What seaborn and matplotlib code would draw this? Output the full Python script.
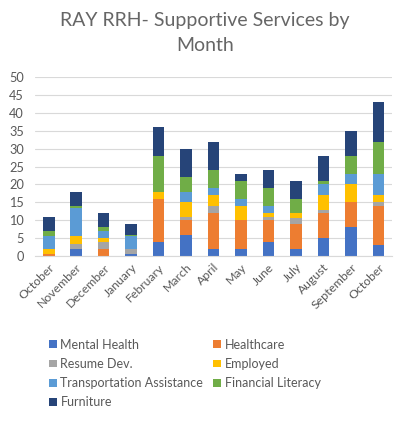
import matplotlib
matplotlib.use("Agg")
import matplotlib.pyplot as plt
import seaborn as sns
import pandas as pd
from matplotlib.patches import Patch

months = ["October", "November", "December", "January", "February", "March", "April",
          "May", "June", "July", "August", "September", "October"]
services = ["Mental Health", "Healthcare", "Resume Dev.", "Employed",
            "Transportation Assistance", "Financial Literacy", "Furniture"]

mental_health = [0, 2, 0, 0.5, 4, 6, 2, 2, 4, 2, 5, 8, 3]
healthcare = [0.5, 0, 2, 0, 12, 4, 10, 8, 6, 7, 7, 7, 11]
resume_dev = [0, 1.5, 2, 1.5, 0, 1, 2, 0, 1, 1.5, 1, 0, 1]
employed = [1.5, 2, 1, 0, 2, 4, 3, 4, 1, 1.5, 4, 5, 2]
transportation = [3.5, 8, 2, 3.5, 0, 3, 2, 2, 2, 0, 3, 3, 6]
financial_literacy = [1.5, 0.5, 1, 0.5, 10, 4, 5, 5, 5, 4, 1, 5, 9]
furniture = [4, 4, 4, 3, 8, 8, 8, 2, 5, 5, 7, 7, 11]

series = [mental_health, healthcare, resume_dev, employed,
          transportation, financial_literacy, furniture]
colors = ["#4472C4", "#ED7D31", "#A5A5A5", "#FFC000", "#5B9BD5", "#70AD47", "#264478"]

sns.set_style("white")
plt.rcParams["font.family"] = ["Lato", "DejaVu Sans"]

fig = plt.figure(figsize=(4.03, 4.26), dpi=100)
ax = fig.add_axes([0.087, 0.399, 0.886, 0.42])

idx = list(range(len(months)))
bottom = [0.0] * len(months)
for name, vals, col in zip(services, series, colors):
    df = pd.DataFrame({"m": idx, "v": vals})
    sns.barplot(data=df, x="m", y="v", color=col, width=0.42, bottom=bottom,
                ax=ax, saturation=1, errorbar=None, edgecolor="none", linewidth=0)
    bottom = [b + v for b, v in zip(bottom, vals)]

ax.set_xlim(-0.5, 12.5)
ax.set_ylim(0, 50)
ax.set_yticks(range(0, 51, 5))
ax.yaxis.grid(True, color="#d9d9d9", linewidth=0.8)
ax.set_axisbelow(True)
for s in ["top", "right", "left"]:
    ax.spines[s].set_visible(False)
ax.spines["bottom"].set_color("#d9d9d9")
ax.set_xlabel("")
ax.set_ylabel("")
ax.set_xticks(idx)
ax.set_xticklabels(months, rotation=45, ha="right", rotation_mode="anchor",
                   fontsize=8.8, color="#595959")
ax.tick_params(axis="y", labelsize=9.2, colors="#595959", length=0, pad=8)
ax.tick_params(axis="x", length=0, pad=4)

fig.text(0.508, 0.952, "RAY RRH- Supportive Services by", ha="center", va="center",
         fontsize=14, color="#666666")
fig.text(0.508, 0.893, "Month", ha="center", va="center", fontsize=14, color="#666666")

handles = [Patch(facecolor=c, edgecolor="none") for c in colors]
order = [0, 2, 4, 6, 1, 3, 5]
leg = fig.legend([handles[i] for i in order], [services[i] for i in order],
                 ncol=2, loc="upper left", bbox_to_anchor=(0.122, 0.205),
                 frameon=False, fontsize=9, handlelength=0.6, handleheight=0.6,
                 handletextpad=0.3, columnspacing=0.8, labelspacing=0.58,
                 borderaxespad=0, borderpad=0)
for t in leg.get_texts():
    t.set_color("#595959")

fig.savefig("out.png", dpi=100)
